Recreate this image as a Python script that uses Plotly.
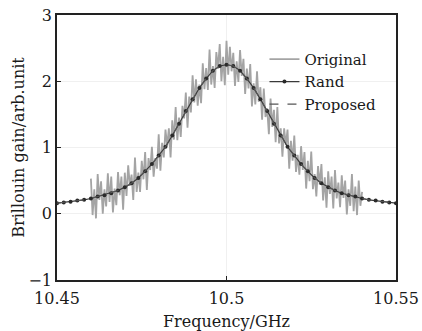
import plotly.graph_objects as go

# ---- Data ----
orig_freq = [
    10.4600, 10.4605, 10.4610, 10.4615, 10.4620, 10.4625, 10.4630, 10.4635, 10.4640, 10.4645,
    10.4650, 10.4655, 10.4660, 10.4665, 10.4670, 10.4675, 10.4680, 10.4685, 10.4690, 10.4695,
    10.4700, 10.4705, 10.4710, 10.4715, 10.4720, 10.4725, 10.4730, 10.4735, 10.4740, 10.4745,
    10.4750, 10.4755, 10.4760, 10.4765, 10.4770, 10.4775, 10.4780, 10.4785, 10.4790, 10.4795,
    10.4800, 10.4805, 10.4810, 10.4815, 10.4820, 10.4825, 10.4830, 10.4835, 10.4840, 10.4845,
    10.4850, 10.4855, 10.4860, 10.4865, 10.4870, 10.4875, 10.4880, 10.4885, 10.4890, 10.4895,
    10.4900, 10.4905, 10.4910, 10.4915, 10.4920, 10.4925, 10.4930, 10.4935, 10.4940, 10.4945,
    10.4950, 10.4955, 10.4960, 10.4965, 10.4970, 10.4975, 10.4980, 10.4985, 10.4990, 10.4995,
    10.5000, 10.5005, 10.5010, 10.5015, 10.5020, 10.5025, 10.5030, 10.5035, 10.5040, 10.5045,
    10.5050, 10.5055, 10.5060, 10.5065, 10.5070, 10.5075, 10.5080, 10.5085, 10.5090, 10.5095,
    10.5100, 10.5105, 10.5110, 10.5115, 10.5120, 10.5125, 10.5130, 10.5135, 10.5140, 10.5145,
    10.5150, 10.5155, 10.5160, 10.5165, 10.5170, 10.5175, 10.5180, 10.5185, 10.5190, 10.5195,
    10.5200, 10.5205, 10.5210, 10.5215, 10.5220, 10.5225, 10.5230, 10.5235, 10.5240, 10.5245,
    10.5250, 10.5255, 10.5260, 10.5265, 10.5270, 10.5275, 10.5280, 10.5285, 10.5290, 10.5295,
    10.5300, 10.5305, 10.5310, 10.5315, 10.5320, 10.5325, 10.5330, 10.5335, 10.5340, 10.5345,
    10.5350, 10.5355, 10.5360, 10.5365, 10.5370, 10.5375, 10.5380, 10.5385, 10.5390, 10.5395,
    10.5400,
]
orig_gain = [
    0.53, -0.02, 0.37, -0.07, 0.60, 0.21, 0.49, 0.00, 0.37, 0.11,
    0.61, 0.18, 0.56, 0.02, 0.38, 0.13, 0.63, 0.28, 0.56, 0.06,
    0.62, 0.27, 0.73, 0.42, 0.59, 0.21, 0.85, 0.33, 0.62, 0.33,
    0.80, 0.52, 0.93, 0.36, 0.84, 0.66, 1.01, 0.56, 0.84, 0.68,
    1.20, 0.65, 1.07, 0.85, 1.27, 1.02, 1.29, 0.85, 1.41, 1.12,
    1.61, 1.11, 1.45, 1.16, 1.63, 1.44, 1.83, 1.30, 1.77, 1.53,
    2.09, 1.68, 2.03, 1.63, 1.95, 1.67, 2.27, 1.88, 2.20, 1.87,
    2.48, 1.95, 2.23, 1.90, 2.44, 2.19, 2.56, 2.00, 2.37, 1.94,
    2.61, 2.10, 2.52, 2.15, 2.43, 1.93, 2.30, 1.99, 2.47, 2.08,
    2.34, 1.81, 2.19, 1.89, 2.26, 1.62, 1.97, 1.65, 2.15, 1.69,
    1.91, 1.42, 1.89, 1.46, 1.59, 1.20, 1.74, 1.31, 1.57, 1.08,
    1.61, 1.06, 1.29, 0.86, 1.29, 1.04, 1.27, 0.68, 1.10, 0.80,
    1.18, 0.63, 0.89, 0.59, 1.02, 0.66, 0.93, 0.38, 0.80, 0.49,
    0.94, 0.37, 0.60, 0.26, 0.72, 0.44, 0.75, 0.20, 0.55, 0.09,
    0.64, 0.30, 0.56, 0.08, 0.66, 0.23, 0.47, 0.10, 0.58, 0.24,
    0.50, -0.01, 0.37, 0.12, 0.60, 0.04, 0.41, -0.02, 0.50, 0.12,
    0.33,
]

fit_freq = [
    10.450, 10.452, 10.454, 10.456, 10.458, 10.460, 10.462, 10.464, 10.466, 10.468,
    10.470, 10.472, 10.474, 10.476, 10.478, 10.480, 10.482, 10.484, 10.486, 10.488,
    10.490, 10.492, 10.494, 10.496, 10.498, 10.500, 10.502, 10.504, 10.506, 10.508,
    10.510, 10.512, 10.514, 10.516, 10.518, 10.520, 10.522, 10.524, 10.526, 10.528,
    10.530, 10.532, 10.534, 10.536, 10.538, 10.540, 10.542, 10.544, 10.546, 10.548,
    10.550,
]
rand_gain = [
    0.16, 0.17, 0.18, 0.20, 0.21, 0.23, 0.26, 0.28, 0.31, 0.35,
    0.40, 0.46, 0.54, 0.64, 0.75, 0.88, 1.01, 1.18, 1.36, 1.55,
    1.73, 1.90, 2.04, 2.16, 2.23, 2.25, 2.23, 2.16, 2.04, 1.90,
    1.73, 1.55, 1.36, 1.18, 1.01, 0.88, 0.75, 0.64, 0.54, 0.46,
    0.40, 0.35, 0.31, 0.28, 0.26, 0.23, 0.21, 0.20, 0.18, 0.17,
    0.16,
]
proposed_gain = [
    0.16, 0.17, 0.18, 0.20, 0.21, 0.23, 0.26, 0.28, 0.31, 0.35,
    0.40, 0.46, 0.54, 0.64, 0.75, 0.88, 1.01, 1.18, 1.36, 1.55,
    1.73, 1.90, 2.04, 2.16, 2.23, 2.25, 2.23, 2.16, 2.04, 1.90,
    1.73, 1.55, 1.36, 1.18, 1.01, 0.88, 0.75, 0.64, 0.54, 0.46,
    0.40, 0.35, 0.31, 0.28, 0.26, 0.23, 0.21, 0.20, 0.18, 0.17,
    0.16,
]

x_ticks = [10.45, 10.5, 10.55]
x_tick_text = ["10.45", "10.5", "10.55"]
y_ticks = [-1, 0, 1, 2, 3]
y_tick_text = ["\u22121", "0", "1", "2", "3"]

FONT = "DejaVu Serif"

fig = go.Figure()
fig.add_trace(go.Scatter(
    x=orig_freq, y=orig_gain, mode="lines", name="Original",
    line=dict(color="#a4a4a4", width=1.8),
))
fig.add_trace(go.Scatter(
    x=fit_freq, y=rand_gain, mode="lines+markers", name="Rand",
    line=dict(color="#3a3a3a", width=1.1),
    marker=dict(color="#2a2a2a", size=4),
))
fig.add_trace(go.Scatter(
    x=fit_freq, y=proposed_gain, mode="lines", name="Proposed",
    line=dict(color="#555555", width=1.1, dash="dash"),
))

fig.update_layout(
    width=422, height=331,
    margin=dict(l=57, r=26, t=15, b=51),
    paper_bgcolor="white", plot_bgcolor="white",
    font=dict(family=FONT, size=16, color="#1a1a1a"),
    showlegend=True,
    legend=dict(
        x=0.612, y=0.895, xanchor="left", yanchor="top",
        bgcolor="rgba(0,0,0,0)", borderwidth=0,
        font=dict(family=FONT, size=15, color="#1a1a1a"),
        tracegroupgap=0, itemwidth=30,
    ),
)
fig.update_xaxes(
    range=[10.45, 10.55], tickmode="array", tickvals=x_ticks, ticktext=x_tick_text,
    ticks="inside", ticklen=4, tickcolor="#222", tickwidth=1,
    showline=True, linecolor="#222", linewidth=1.5, mirror=True,
    showgrid=True, gridcolor="#f0f0f0", gridwidth=1, zeroline=False,
    automargin=False, ticklabelstandoff=3,
    title=dict(text="Frequency/GHz", standoff=12, font=dict(family=FONT, size=16)),
)
fig.update_yaxes(
    range=[-1, 3], tickmode="array", tickvals=y_ticks, ticktext=y_tick_text,
    ticks="inside", ticklen=4, tickcolor="#222", tickwidth=1,
    showline=True, linecolor="#222", linewidth=1.5, mirror=True,
    showgrid=True, gridcolor="#f0f0f0", gridwidth=1, zeroline=False,
    automargin=False,
    title=dict(text="Brillouin gain/arb.unit", standoff=0, font=dict(family=FONT, size=16)),
)

fig.write_html("out.html")
